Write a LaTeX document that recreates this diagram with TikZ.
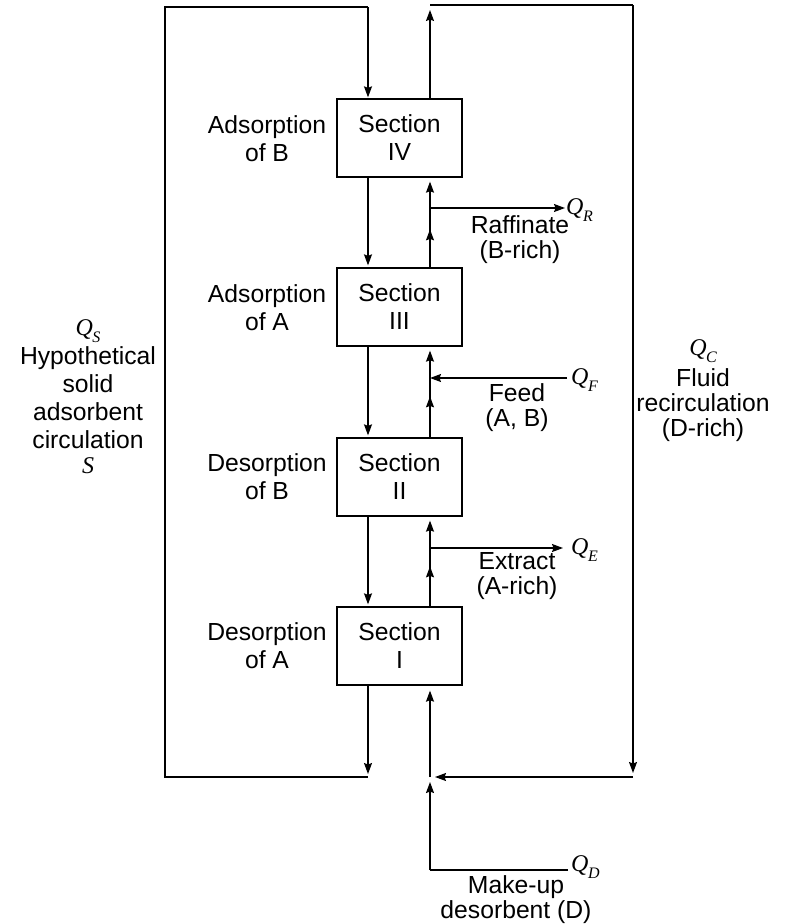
\documentclass[tikz,border=0pt]{standalone}
\usepackage{fontspec}
\setmainfont{Liberation Sans}
\newfontfamily\qfont{Liberation Serif}
\newcommand\Qsym[1]{{\qfont\itshape Q\kern-0.5pt\raisebox{-0.28em}{\fontsize{16}{16}\selectfont #1}}}
\usetikzlibrary{arrows.meta,decorations.markings,calc}
\begin{document}
\begin{tikzpicture}[x=1pt,y=-1pt,
  every node/.style={inner sep=0pt},
  big/.style={font=\fontsize{24.7}{28}\selectfont},
  small/.style={font=\fontsize{24.7}{25}\selectfont},
  box/.style={big, draw, line width=1.3pt, minimum width=125pt, minimum height=78pt, align=center},
  lbl/.style={big, align=center},
  rlbl/.style={small, align=center},
  ql/.style={font=\fontsize{24}{26}\selectfont},
  flow/.style={line width=1.3pt},
  tip/.style={-{Stealth[length=11pt,width=8pt,inset=1.5pt]}},
  midtip/.style={postaction={decorate}, decoration={markings, mark=at position #1 with {\arrow{Stealth[length=11pt,width=8pt,inset=1.5pt]}}}}
]
\useasboundingbox (0,0) rectangle (790,924);

% section boxes
\node[box] (s4) at (399.5,138) {Section\\IV};
\node[box] (s3) at (399.5,307) {Section\\III};
\node[box] (s2) at (399.5,477) {Section\\II};
\node[box] (s1) at (399.5,646) {Section\\I};

% left labels
\node[lbl] (l4) at (267,139) {Adsorption\\of B};
\node[lbl] (l3) at (267,308) {Adsorption\\of A};
\node[lbl] (l2) at (267,477) {Desorption\\of B};
\node[lbl] (l1) at (267,646) {Desorption\\of A};

% side labels
\node[ql] (qs) at (88,331) {\Qsym{S}};
\node[lbl] (ls) at (88,398) {Hypothetical\\solid\\adsorbent\\circulation};
\node[ql] (ss) at (88,466) {\qfont\itshape S};
\node[ql] (qc) at (703,351) {\Qsym{C}};
\node[rlbl] (lc) at (703,405) {Fluid\\recirculation\\(D-rich)};

% stream labels
\node[rlbl] (raf) at (520,240) {Raffinate\\(B-rich)};
\node[rlbl] (feed) at (517,408) {Feed\\(A, B)};
\node[rlbl] (ext) at (517,576) {Extract\\(A-rich)};
\node[rlbl] (mku) at (516,900) {Make-up\\desorbent (D)};

\node[ql,anchor=west] (qr) at (566,210) {\Qsym{R}};
\node[ql,anchor=west] (qf) at (571,380) {\Qsym{F}};
\node[ql,anchor=west] (qe) at (571,550) {\Qsym{E}};
\node[ql,anchor=west] (qd) at (571,867) {\Qsym{D}};

% helper coordinates
\coordinate (dn) at (368,0);
\coordinate (up) at (430,0);
\coordinate (lt) at (165,7);
\coordinate (ltr) at (368,7);
\coordinate (lb) at (165,777);
\coordinate (lbr) at (368,777);
\coordinate (rt) at (430,5);
\coordinate (rtr) at (633,5);
\coordinate (rbr) at (633,777);
\coordinate (jn) at (430,777);
\coordinate (mk) at (430,870);
\coordinate (mkend) at (568,870);
\coordinate (bR) at (430,208);
\coordinate (eR) at (565,208);
\coordinate (bF) at (430,378);
\coordinate (eF) at (567,378);
\coordinate (bE) at (430,548);
\coordinate (eE) at (563,548);

% solid (left) circulation
\draw[flow,tip,shorten >=3pt] (s1.south -| dn) -- (lbr);
\draw[flow] (lbr) -- (lb) -- (lt) -- (ltr);
\draw[flow,tip,shorten >=1pt] (ltr) -- (s4.north -| dn);
\draw[flow,tip,shorten >=2pt] (s4.south -| dn) -- (s3.north -| dn);
\draw[flow,tip,shorten >=2pt] (s3.south -| dn) -- (s2.north -| dn);
\draw[flow,tip,shorten >=2pt] (s2.south -| dn) -- (s1.north -| dn);

% fluid (right) flow
\draw[flow,tip,shorten >=4pt,midtip=38pt] (s3.north -| up) -- (s4.south -| up);
\draw[flow,tip,shorten >=4pt,midtip=41pt] (s2.north -| up) -- (s3.south -| up);
\draw[flow,tip,shorten >=4pt,midtip=40pt] (s1.north -| up) -- (s2.south -| up);
\draw[flow,tip,shorten >=5pt] (s4.north -| up) -- (rt);
\draw[flow] (rt) -- (rtr);
\draw[flow,tip,shorten >=4pt] (rtr) -- (rbr);
\draw[flow,tip,shorten >=5pt] (rbr) -- (jn);
\draw[flow,tip,shorten >=5pt] (jn) -- (s1.south -| up);
\draw[flow] (mkend) -- (mk);
\draw[flow,tip,shorten >=5pt] (mk) -- (jn);

% side streams
\draw[flow,tip] (bR) -- (eR);
\draw[flow,tip] (eF) -- (bF);
\draw[flow,tip] (bE) -- (eE);
\end{tikzpicture}
\end{document}
